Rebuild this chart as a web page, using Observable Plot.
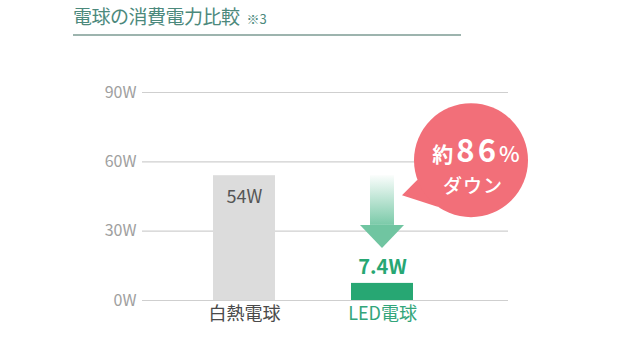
<!DOCTYPE html>
<html>
<head>
<meta charset="utf-8">
<script src="https://cdn.jsdelivr.net/npm/d3@7"></script>
<script src="https://cdn.jsdelivr.net/npm/@observablehq/plot@0.6"></script>
<style>
  body { margin: 0; background: #fff; font-family: 'Noto Sans CJK JP', 'Noto Sans', sans-serif; }
  #title { margin-left: 73px; width: 388px; height: 34px; line-height: 32px; border-bottom: 2px solid #9db4ae; color: #4c897c; font-size: 19px; white-space: nowrap; letter-spacing: -0.5px; }
  #title .note { font-size: 13px; margin-left: 7px; letter-spacing: 0; }
  #chart svg { display: block; }
</style>
</head>
<body>
<div id="title"></div>
<div id="chart"></div>
<script>
const titleText = "電球の消費電力比較";
const titleNote = "※3";
const categories = ["白熱電球", "LED電球"];
const watts = [54, 7.4];
const valueLabels = ["54W", "7.4W"];
const barColors = ["#dcdcdc", "#27a773"];
const categoryColors = ["#4a4a4a", "#33a57a"];
const yTicks = [0, 30, 60, 90];
const reductionParts = ["約", "86", "%"];
const reductionSub = "ダウン";

document.getElementById("title").innerHTML = titleText + '<span class="note">' + titleNote + '</span>';

const data = categories.map((c, i) => ({
  category: c, watts: watts[i], label: valueLabels[i],
  barColor: barColors[i], labelColor: categoryColors[i]
}));

function annotation(index, scales) {
  const x = scales.x, y = scales.y;
  const bw = x.bandwidth ? x.bandwidth() : 62;
  const cx = x(categories[1]) + bw / 2;
  const topY = y(watts[0]);
  const tipY = y(watts[1]) - 35;
  const headTop = tipY - 23;
  const g = d3.create("svg:g");
  const defs = g.append("defs");
  const grad = defs.append("linearGradient").attr("id", "arrowGrad")
    .attr("x1", 0).attr("y1", 0).attr("x2", 0).attr("y2", 1);
  grad.append("stop").attr("offset", "0%").attr("stop-color", "#6cc49f").attr("stop-opacity", 0.03);
  grad.append("stop").attr("offset", "100%").attr("stop-color", "#6cc49f").attr("stop-opacity", 0.9);
  g.append("rect").attr("x", cx - 12).attr("y", topY).attr("width", 24).attr("height", headTop - topY)
    .attr("fill", "url(#arrowGrad)");
  g.append("path").attr("d", `M${cx - 22},${headTop}L${cx + 22},${headTop}L${cx},${tipY}Z`).attr("fill", "#70c5a1");

  const bx = cx + 89, by = topY - 15, r = 57;
  const a1 = 160 * Math.PI / 180, a2 = 125 * Math.PI / 180;
  g.append("path").attr("d",
    `M${bx + r * Math.cos(a1)},${by + r * Math.sin(a1)}L${cx + 20},${by + 35}L${bx + r * Math.cos(a2)},${by + r * Math.sin(a2)}Z`)
    .attr("fill", "#f26f79");
  g.append("circle").attr("cx", bx).attr("cy", by).attr("r", r).attr("fill", "#f26f79");
  const t = g.append("text").attr("x", bx + 5).attr("y", by + 2).attr("text-anchor", "middle")
    .attr("fill", "#fff").attr("font-weight", 700);
  t.append("tspan").attr("font-size", 21).text(reductionParts[0]);
  t.append("tspan").attr("font-size", 31).attr("dx", 3).attr("letter-spacing", 3).text(reductionParts[1]);
  t.append("tspan").attr("font-size", 22).attr("font-weight", 500).text(reductionParts[2]);
  g.append("text").attr("x", bx + 2).attr("y", by + 33).attr("text-anchor", "middle")
    .attr("fill", "#fff").attr("font-size", 19).attr("font-weight", 500).attr("letter-spacing", 1).text(reductionSub);
  return g.node();
}

const chart = Plot.plot({
  width: 640,
  height: 324,
  marginLeft: 142,
  marginRight: 132,
  marginTop: 56,
  marginBottom: 60,
  style: { fontFamily: "'Noto Sans CJK JP', 'Noto Sans', sans-serif", background: "#fff" },
  x: { domain: categories, range: [142, 483.5], paddingInner: 0.552, paddingOuter: 0.509, axis: null },
  y: { domain: [0, 90], axis: null },
  color: { type: "identity" },
  marks: [
    Plot.ruleY(yTicks, { stroke: "#cfcfcf", strokeWidth: 1.2 }),
    Plot.axisY({ ticks: yTicks, tickSize: 0, tickPadding: 6, tickFormat: d => d + "W", fontSize: 16, fill: "#a0a0a0", label: null }),
    Plot.barY(data, { x: "category", y: "watts", fill: "barColor" }),
    Plot.text(data.filter(d => d.watts >= 20), { x: "category", y: "watts", text: "label", dy: 22, fontSize: 18, fill: "#555" }),
    Plot.text(data.filter(d => d.watts < 20), { x: "category", y: "watts", text: "label", dy: -16, fontSize: 20, fontWeight: 700, fill: "barColor" }),
    Plot.text(data, { x: "category", frameAnchor: "bottom", dy: 19, text: "category", fontSize: 18, fill: "labelColor" }),
    annotation
  ]
});
document.getElementById("chart").appendChild(chart);
</script>
</body>
</html>
